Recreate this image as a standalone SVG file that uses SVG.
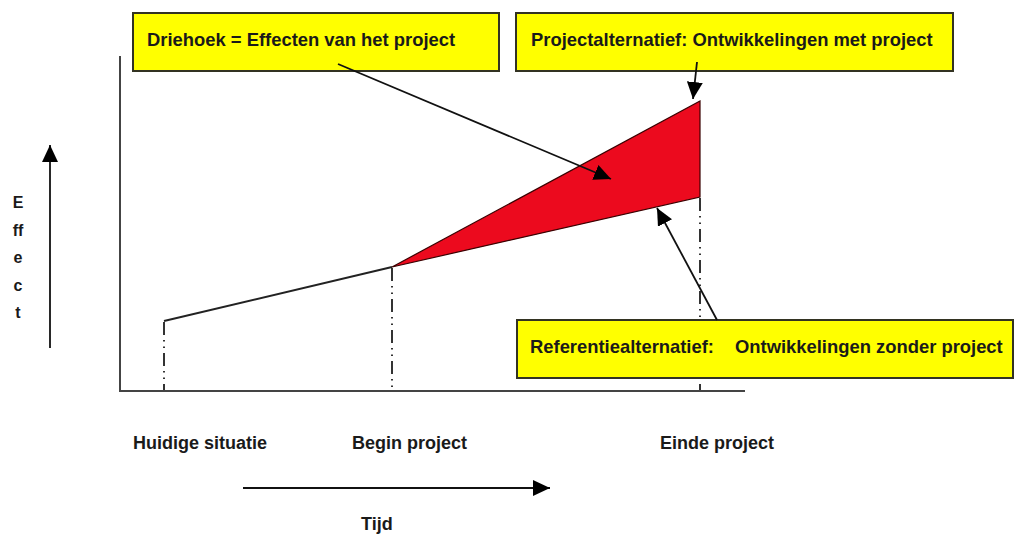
<svg xmlns="http://www.w3.org/2000/svg" width="1015" height="534" viewBox="0 0 1015 534">
<style>
.lbl{font-family:"Liberation Sans",Arial,sans-serif;font-weight:bold;font-size:18px;fill:#1a1a1a}
.blbl{font-family:"Liberation Sans",Arial,sans-serif;font-weight:bold;font-size:18.4px;fill:#1a1a1a}
.eff{font-family:"Liberation Sans",Arial,sans-serif;font-weight:bold;font-size:16px;fill:#1a1a1a;text-anchor:middle}
.box{fill:#ffff00;stroke:#333322;stroke-width:2}
.axis{stroke:#444;stroke-width:2;fill:none}
.ln{stroke:#222;stroke-width:2;fill:none}
.dd{stroke:#333;stroke-width:2;fill:none;stroke-dasharray:13 5 1.5 5 1.5 5}
.arr{stroke:#111;stroke-width:1.8;fill:none;marker-end:url(#ah)}
</style>
<defs>
<marker id="ah" markerUnits="userSpaceOnUse" markerWidth="18" markerHeight="16" refX="17" refY="8" orient="auto">
<path d="M0,0 L17,8 L0,16 z" fill="#000"/>
</marker>
</defs>
<rect width="1015" height="534" fill="#fff"/>
<g id="axes">
<path class="axis" d="M120,56 V391 H745"/>
</g>
<g id="guides">
<path class="dd" d="M164,322 V390"/>
<path class="dd" d="M392,268 V390"/>
<path class="dd" d="M700,198 V390"/>
</g>
<g id="baseline">
<path class="ln" d="M164,321 L392,267"/>
</g>
<g id="triangle">
<path d="M392,267 L700,101 L700,197 Z" fill="#ec0a1e" stroke="#3a0000" stroke-width="1.2"/>
</g>
<g id="box-driehoek">
<rect class="box" x="133" y="13" width="366" height="58"/>
<text class="blbl" x="147" y="46">Driehoek = Effecten van het project</text>
</g>
<g id="box-project">
<rect class="box" x="516" y="13" width="437" height="58"/>
<text class="blbl" x="531" y="46">Projectalternatief: Ontwikkelingen met project</text>
</g>
<g id="box-referentie">
<rect class="box" x="517" y="320" width="496" height="58"/>
<text class="blbl" x="530" y="353">Referentiealternatief: <tspan x="735">Ontwikkelingen zonder project</tspan></text>
</g>
<g id="connectors">
<path class="arr" d="M338,64 L611,179"/>
<path class="arr" d="M697,62 L693,99"/>
<path class="arr" d="M717,320 L657,208"/>
<path class="arr" d="M50,348 V145"/>
<path class="arr" d="M243,488 H550"/>
</g>
<g id="effect-label">
<text class="eff" x="18" y="208">E</text>
<text class="eff" x="18" y="236">ff</text>
<text class="eff" x="18" y="263">e</text>
<text class="eff" x="18" y="291">c</text>
<text class="eff" x="18" y="318">t</text>
</g>
<g id="time-labels">
<text class="lbl" x="133" y="449">Huidige situatie</text>
<text class="lbl" x="352" y="449">Begin project</text>
<text class="lbl" x="660" y="449">Einde project</text>
<text class="lbl" x="361" y="530">Tijd</text>
</g>
</svg>
